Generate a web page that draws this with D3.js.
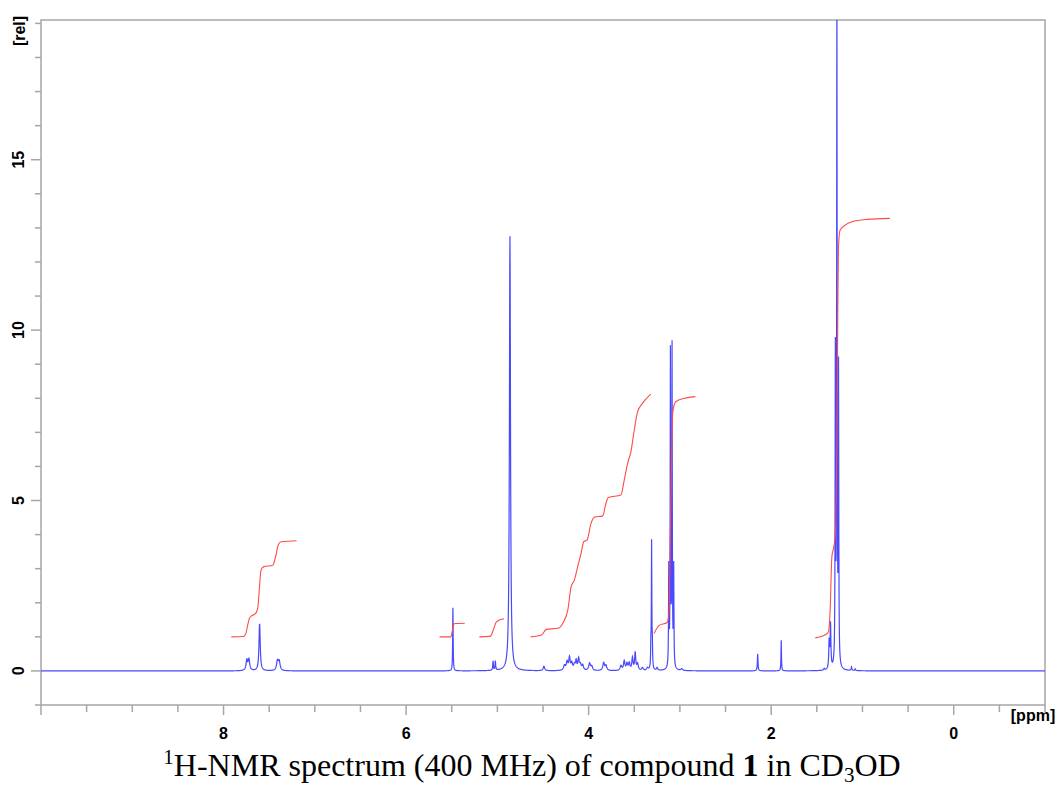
<!DOCTYPE html>
<html lang="en">
<head>
<meta charset="UTF-8">
<title>1H-NMR spectrum</title>
<script src="https://cdn.jsdelivr.net/npm/d3@7/dist/d3.min.js"></script>
<style>
  body { margin: 0; background: #fff; }
  .tick-label { font-family: "Liberation Sans", Arial, sans-serif; font-weight: bold; font-size: 16px; fill: #000; }
  .caption { font-family: "Liberation Serif", "Times New Roman", serif; font-size: 32px; fill: #000; }
</style>
</head>
<body>
<script>
// peaks: [ppm, height, half width (ppm)]
var aromaticPeaks = [[7.745, 0.30, 0.01], [7.722, 0.32, 0.01], [7.605, 1.38, 0.008], [7.410, 0.28, 0.011], [7.390, 0.26, 0.011]];
var olefinPeaks = [[5.487, 1.85, 0.003], [5.047, 0.27, 0.004], [5.022, 0.27, 0.004]];
var solventPeaks = [[4.862, 12.75, 0.007], [3.310, 3.7, 0.003], [3.318, 0.6, 0.003], [3.302, 0.6, 0.003]];
var sugarPeaks = [
  [4.49, 0.13, 0.01], [4.265, 0.14, 0.012], [4.236, 0.24, 0.01], [4.21, 0.36, 0.009], [4.185, 0.20, 0.01],
  [4.156, 0.15, 0.01], [4.137, 0.26, 0.008], [4.11, 0.33, 0.009], [4.09, 0.15, 0.01], [4.065, 0.15, 0.01],
  [3.99, 0.21, 0.011], [3.966, 0.12, 0.01], [3.835, 0.23, 0.011], [3.81, 0.14, 0.01], [3.646, 0.14, 0.011],
  [3.61, 0.27, 0.009], [3.58, 0.19, 0.009], [3.555, 0.21, 0.009], [3.52, 0.36, 0.008], [3.49, 0.52, 0.007],
  [3.464, 0.19, 0.009], [3.41, 0.08, 0.01], [3.355, 0.08, 0.01], [3.25, 0.08, 0.008], [2.98, 0.05, 0.01]
];
var ethylPeaks = [[3.122, 2.9, 0.003], [3.104, 9.2, 0.003], [3.086, 9.35, 0.003], [3.068, 2.9, 0.003],
  [1.365, 0.8, 0.005], [1.350, 1.3, 0.005], [1.297, 9.1, 0.003], [1.280, 20.5, 0.003], [1.262, 8.6, 0.003]];
var minorPeaks = [[2.148, 0.5, 0.004], [1.890, 0.9, 0.003], [1.42, 0.05, 0.005], [1.12, 0.1, 0.005], [1.08, 0.05, 0.005]];

// integral curves: [ppm, value]
var integral1 = [[7.915, 1.0], [7.78, 1.01], [7.755, 1.1], [7.735, 1.35], [7.715, 1.55], [7.69, 1.62], [7.65, 1.68], [7.625, 1.85], [7.605, 2.5], [7.59, 2.95], [7.56, 3.06], [7.46, 3.1], [7.43, 3.35], [7.40, 3.7], [7.37, 3.79], [7.20, 3.82]];
var integral2 = [[5.633, 1.0], [5.51, 1.0], [5.495, 1.15], [5.48, 1.36], [5.46, 1.39], [5.357, 1.4]];
var integral3 = [[5.197, 1.0], [5.075, 1.02], [5.045, 1.2], [5.015, 1.42], [4.99, 1.48], [4.927, 1.53]];
var integral4 = [[4.636, 1.0], [4.512, 1.06], [4.465, 1.22], [4.337, 1.25], [4.283, 1.40], [4.228, 1.79], [4.192, 2.47], [4.156, 2.67], [4.12, 3.06], [4.083, 3.45], [4.054, 3.79], [4.017, 3.84], [3.974, 4.33], [3.937, 4.51], [3.846, 4.55], [3.81, 4.92], [3.784, 5.09], [3.646, 5.16], [3.61, 5.60], [3.573, 6.09], [3.537, 6.43], [3.50, 7.07], [3.464, 7.60], [3.41, 7.85], [3.319, 8.12]];
var integral5 = [[3.283, 1.1], [3.23, 1.33], [3.14, 1.42], [3.12, 1.7], [3.10, 4.8], [3.078, 7.6], [3.046, 7.9], [2.95, 8.0], [2.83, 8.05]];
var integral6 = [[1.517, 0.97], [1.408, 1.06], [1.372, 1.15], [1.354, 1.79], [1.335, 3.35], [1.307, 3.75], [1.292, 4.33], [1.28, 6.69], [1.27, 10.6], [1.263, 12.44], [1.245, 12.93], [1.19, 13.08], [1.117, 13.18], [0.953, 13.25], [0.70, 13.28]];

var xTicks = d3.range(10, -1.01, -0.5);
var xLabels = [8, 6, 4, 2, 0];
var yTicks = d3.range(-1, 19.5, 1);
var yLabels = [0, 5, 10, 15];

var allPeaks = [].concat(aromaticPeaks, olefinPeaks, solventPeaks, sugarPeaks, ethylPeaks, minorPeaks);
var integrals = [integral1, integral2, integral3, integral4, integral5, integral6];

var W = 1061, H = 787;
var padL = 41, padR = 1045, padT = 20, padB = 705;

var x = d3.scaleLinear().domain([10, -1]).range([padL, padR]);
var y = d3.scaleLinear().domain([-1, 19.1]).range([padB, padT]);

var svg = d3.select("body").append("svg")
    .attr("width", W)
    .attr("height", H);

svg.append("clipPath").attr("id", "plot-clip")
  .append("rect")
    .attr("x", padL).attr("y", padT)
    .attr("width", padR - padL).attr("height", padB - padT);

// frame
svg.append("rect")
    .attr("x", padL).attr("y", padT)
    .attr("width", padR - padL).attr("height", padB - padT)
    .attr("fill", "none")
    .attr("stroke", "#a6a6a6")
    .attr("stroke-width", 1.5);

// x ticks
svg.append("g").selectAll("line")
  .data(xTicks)
  .enter().append("line")
    .attr("x1", function (d) { return x(d); })
    .attr("x2", function (d) { return x(d); })
    .attr("y1", padB)
    .attr("y2", function (d) { return Math.abs(d % 2) < 1e-6 ? padB + 10 : padB + 7; })
    .attr("stroke", "#a6a6a6")
    .attr("stroke-width", 1.5);

svg.append("g").selectAll("text")
  .data(xLabels)
  .enter().append("text")
    .attr("class", "tick-label")
    .attr("x", function (d) { return x(d); })
    .attr("y", 739)
    .attr("text-anchor", "middle")
    .text(function (d) { return d; });

svg.append("text")
    .attr("class", "tick-label")
    .attr("x", 1033)
    .attr("y", 721)
    .attr("text-anchor", "middle")
    .text("[ppm]");

// y ticks
svg.append("g").selectAll("line")
  .data(yTicks)
  .enter().append("line")
    .attr("x1", function (d) { return yLabels.indexOf(d) >= 0 ? padL - 10 : padL - 6; })
    .attr("x2", padL)
    .attr("y1", function (d) { return y(d); })
    .attr("y2", function (d) { return y(d); })
    .attr("stroke", "#a6a6a6")
    .attr("stroke-width", 1.5);

svg.append("g").selectAll("text")
  .data(yLabels)
  .enter().append("text")
    .attr("class", "tick-label")
    .attr("transform", function (d) { return "translate(24," + y(d) + ") rotate(-90)"; })
    .attr("text-anchor", "middle")
    .text(function (d) { return d; });

svg.append("text")
    .attr("class", "tick-label")
    .attr("transform", "translate(25,31) rotate(-90)")
    .attr("text-anchor", "middle")
    .text("[rel]");

// spectrum: sum of lorentzian lines
var samples = d3.range(10, -1.0005, -0.002);
allPeaks.forEach(function (p) {
  samples.push(p[0], p[0] + p[2], p[0] - p[2]);
});
samples.sort(function (a, b) { return b - a; });

function intensity(ppm) {
  var s = 0;
  allPeaks.forEach(function (p) {
    var t = (ppm - p[0]) / p[2];
    s += p[1] / (1 + t * t);
  });
  return s;
}

var plot = svg.append("g").attr("clip-path", "url(#plot-clip)");

var line = d3.line()
    .x(function (d) { return x(d); })
    .y(function (d) { return y(intensity(d)); });

plot.append("path")
    .attr("d", line(samples))
    .attr("fill", "none")
    .attr("stroke", "#4848ff")
    .attr("stroke-width", 1.2);

// integrals
var intLine = d3.line()
    .curve(d3.curveMonotoneX)
    .x(function (d) { return x(d[0]); })
    .y(function (d) { return y(d[1]); });

plot.selectAll("path.integral")
  .data(integrals)
  .enter().append("path")
    .attr("class", "integral")
    .attr("d", intLine)
    .attr("fill", "none")
    .attr("stroke", "#ff4a4a")
    .attr("stroke-width", 1.1);

// caption
var cap = svg.append("text")
    .attr("class", "caption")
    .attr("x", 532)
    .attr("y", 776)
    .attr("text-anchor", "middle");
cap.append("tspan").attr("font-size", 21).attr("dy", -12).text("1");
cap.append("tspan").attr("dy", 12).text("H-NMR spectrum (400 MHz) of compound ");
cap.append("tspan").attr("font-weight", "bold").text("1");
cap.append("tspan").text(" in CD");
cap.append("tspan").attr("font-size", 21).attr("dy", 6).text("3");
cap.append("tspan").attr("dy", -6).text("OD");
</script>
</body>
</html>
